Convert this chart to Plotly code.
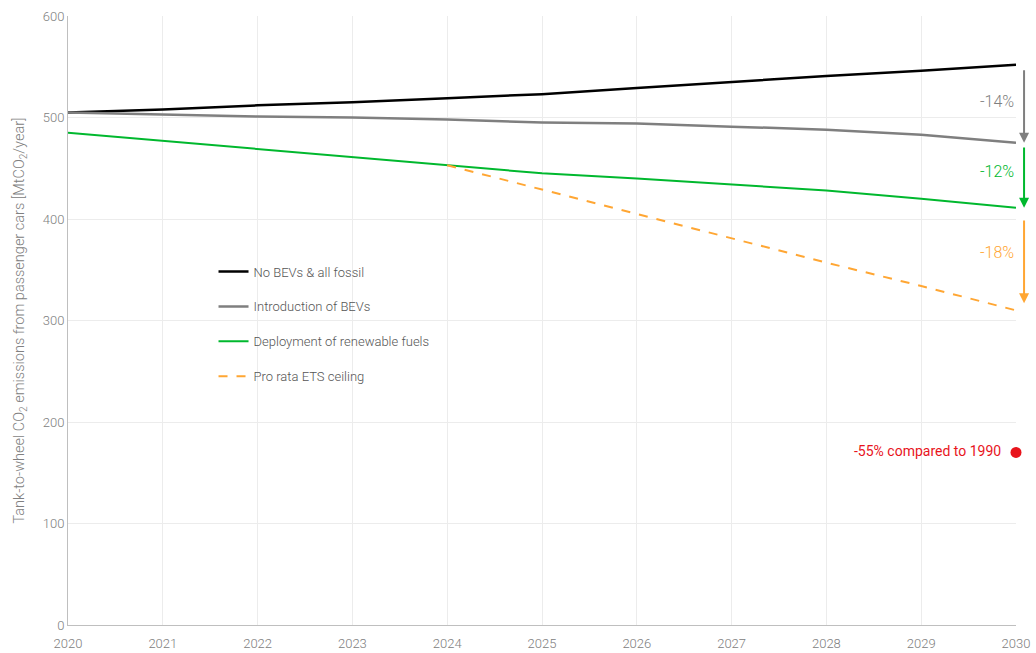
import plotly.graph_objects as go

years = list(range(2020, 2031))
no_bev_fossil = [505, 508, 512, 515, 519, 523, 529, 535, 541, 546, 552]
intro_bev = [505, 503, 501, 500, 498, 495, 494, 491, 488, 483, 475]
renewable_fuels = [485, 477, 469, 461, 453, 445, 440, 434, 428, 420, 411]
ets_years = [2024, 2025, 2026, 2027, 2028, 2029, 2030]
ets_ceiling = [453, 429, 405, 381, 357, 334, 310]
target_year = [2030]
target_value = [170]

# arrows: (start, end, label, label y, colour)
arrows = [
    (548, 475, "-14%", 516, "#7f7f7f"),
    (472, 411, "-12%", 447, "#00b82e"),
    (400, 317, "-18%", 367, "#ffa633"),
]

GRAY_TXT = "#808080"
fig = go.Figure()
fig.add_trace(go.Scatter(x=years, y=no_bev_fossil, mode="lines", name="No BEVs & all fossil",
                         line=dict(color="#000000", width=2.5), legendgroup="a"))
fig.add_trace(go.Scatter(x=years, y=intro_bev, mode="lines", name="Introduction of BEVs",
                         line=dict(color="#7f7f7f", width=2.5), legendgroup="b"))
fig.add_trace(go.Scatter(x=years, y=renewable_fuels, mode="lines", name="Deployment of renewable fuels",
                         line=dict(color="#00b82e", width=2), legendgroup="c"))
fig.add_trace(go.Scatter(x=ets_years, y=ets_ceiling, mode="lines", name="Pro rata ETS ceiling",
                         line=dict(color="#ffa633", width=2, dash="dash"), legendgroup="d"))
fig.add_trace(go.Scatter(x=target_year, y=target_value, mode="markers+text",
                         text=["-55% compared to 1990  "], textposition="middle left",
                         textfont=dict(color="#e8141c", size=14, weight=400),
                         marker=dict(color="#e8141c", size=11), showlegend=False,
                         cliponaxis=False))

for y0, y1, label, ly, col in arrows:
    fig.add_annotation(x=1.0085, y=y1, xref="paper", yref="y",
                       ax=0, ay=y0, axref="pixel", ayref="y", text="", showarrow=True,
                       arrowhead=2, arrowsize=1, arrowwidth=2, arrowcolor=col)
    fig.add_annotation(x=2030, y=ly, xref="x", yref="y", text=label, showarrow=False,
                       xanchor="right", font=dict(color=col, size=16, weight=300))

fig.update_layout(
    width=1036, height=653,
    margin=dict(l=68, r=20, t=16, b=28, autoexpand=False),
    plot_bgcolor="white", paper_bgcolor="white",
    font=dict(family="Roboto", color=GRAY_TXT, size=13, weight=300),
    legend=dict(x=0.1535, y=0.605, xanchor="left", yanchor="top",
                font=dict(size=13, color="#555555", weight=300), tracegroupgap=15,
                bgcolor="rgba(0,0,0,0)"),
    xaxis=dict(range=[2020, 2030], dtick=1, showgrid=True, gridcolor="#ececec",
               showline=True, linecolor="#bfbfbf", linewidth=1, zeroline=False,
               automargin=False, ticklabelstandoff=6,
               tickfont=dict(color=GRAY_TXT, size=13, weight=300)),
    yaxis=dict(range=[0, 600], dtick=100, showgrid=True, gridcolor="#ececec",
               showline=True, linecolor="#bfbfbf", linewidth=1, zeroline=False,
               automargin=False, tickfont=dict(color=GRAY_TXT, size=13, weight=300),
               title=dict(text="Tank-to-wheel CO<sub>2</sub> emissions from passenger cars [MtCO<sub>2</sub>/year]",
                          font=dict(size=14.5, color=GRAY_TXT, weight=300), standoff=14)),
)

# drop the default 8px body margin so the figure fills the window exactly
fig.write_html("out.html", config={"displayModeBar": False},
               post_script="document.body.style.margin='0';")
